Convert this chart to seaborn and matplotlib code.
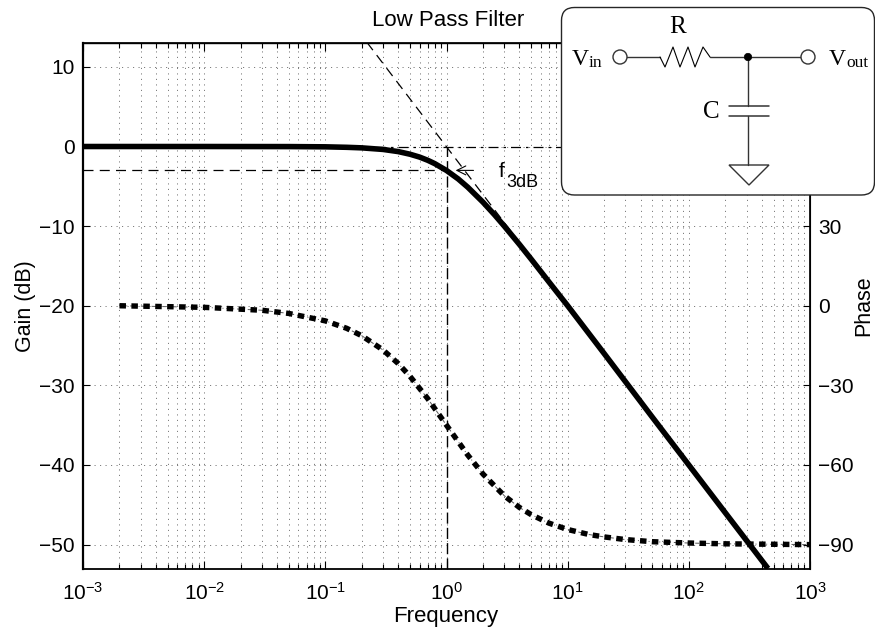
import matplotlib
matplotlib.use("Agg")
import matplotlib.pyplot as plt
from matplotlib.patches import FancyBboxPatch, Circle, Polygon
import seaborn as sns

# values
gain_freq = [0.001, 0.01, 0.05, 0.1, 0.15, 0.2, 0.3, 0.4, 0.5, 0.6, 0.7, 0.8, 1, 1.25, 1.5,
             2, 2.5, 3, 4, 5, 7, 10, 20, 50, 100, 200, 300, 450]
gain_db = [0, 0, -0.01, -0.04, -0.1, -0.17, -0.37, -0.64, -0.97, -1.33, -1.73, -2.15, -3.01, -4.08, -5.12,
           -6.99, -8.6, -10, -12.3, -14.15, -17, -20, -26, -34, -40, -46, -49.5, -53]
phase_freq = [0.002, 0.01, 0.03, 0.05, 0.1, 0.15, 0.2, 0.3, 0.4, 0.5, 0.7, 1, 1.5, 2, 3, 4, 5, 7,
              10, 15, 20, 30, 50, 100, 200, 1000]
phase_deg = [0, -0.6, -1.7, -2.9, -5.7, -8.5, -11.3, -16.7, -21.8, -26.6, -35, -45, -56.3, -63.4,
             -71.6, -76, -78.7, -81.9, -84.3, -86.2, -87.1, -88.1, -88.9, -89.4, -89.7, -90]
asym_freq = [0.22, 10]
asym_db = [13.1, -20]
zero_freq = [0.001, 1000]
zero_db = [0, 0]
cut_freq = [0.001, 1]
cut_db = [-3, -3]
vert_freq = [1, 1]
vert_db = [-53, 0]
freq_ticks = [0.001, 0.01, 0.1, 1, 10, 100, 1000]
gain_ticks = [-50, -40, -30, -20, -10, 0, 10]
phase_ticks = [-90, -60, -30, 0, 30]

sns.set_theme(style="white")
plt.rcParams["font.family"] = ["Liberation Sans", "DejaVu Sans"]
plt.rcParams["mathtext.fontset"] = "custom"
plt.rcParams["mathtext.rm"] = "Liberation Sans"
plt.rcParams["mathtext.default"] = "regular"
plt.rcParams["axes.edgecolor"] = "black"
plt.rcParams["text.color"] = "black"
plt.rcParams["xtick.color"] = "black"
plt.rcParams["ytick.color"] = "black"
plt.rcParams["axes.labelcolor"] = "black"

W, H = 875, 627
fig = plt.figure(figsize=(8.75, 6.27), dpi=100)
L, R, T, B = 83, 810, 43, 568.5
ax = fig.add_axes([L / W, 1 - B / H, (R - L) / W, (B - T) / H])
ax2 = ax.twinx()

dots = (0, (1.5, 5.7))
sns.lineplot(x=gain_freq, y=gain_db, ax=ax, color="black", linewidth=4.0, estimator=None, sort=False,
             solid_capstyle="butt", zorder=4)
sns.lineplot(x=asym_freq, y=asym_db, ax=ax, color="black", linewidth=0.9, estimator=None, sort=False,
             linestyle=(0, (8, 5)), zorder=3)
sns.lineplot(x=zero_freq, y=zero_db, ax=ax, color="black", linewidth=0.9, estimator=None, sort=False,
             linestyle=(0, (8, 4, 2, 4)), zorder=3)
sns.lineplot(x=cut_freq, y=cut_db, ax=ax, color="black", linewidth=0.9, estimator=None, sort=False,
             linestyle=(0, (8, 5)), zorder=3)
sns.lineplot(x=vert_freq, y=vert_db, ax=ax, color="black", linewidth=1.0, estimator=None, sort=False,
             linestyle=(0, (8, 3)), zorder=3)

sns.lineplot(x=phase_freq, y=phase_deg, ax=ax2, color="0.35", linewidth=0.7, estimator=None, sort=False,
             linestyle=(0, (4, 3, 1, 3)), zorder=3)
sns.lineplot(x=phase_freq, y=phase_deg, ax=ax2, color="black", linewidth=3.9, estimator=None, sort=False,
             linestyle=(0, (1.2, 1.0)), dash_capstyle="butt", zorder=4)

ax.set_xscale("log")
ax.set_xlim(1e-3, 1e3)
ax.set_ylim(-53, 13)
ax2.set_ylim(-99, 99)
ax.set_yticks(gain_ticks)
ax2.set_yticks(phase_ticks)
ax.set_yticklabels([str(v).replace("-", "\u2212") for v in gain_ticks])
ax2.set_yticklabels([str(v).replace("-", "\u2212") for v in phase_ticks])

ax.grid(True, which="major", axis="y", color="0.35", linewidth=0.55, linestyle=dots)
ax.grid(True, which="both", axis="x", color="0.35", linewidth=0.55, linestyle=dots)
ax.set_axisbelow(True)
ax.set_xticks(freq_ticks)
ax.xaxis.set_minor_locator(matplotlib.ticker.LogLocator(base=10, subs=range(2, 10), numticks=10))
ax.xaxis.set_minor_formatter(matplotlib.ticker.NullFormatter())

ax.tick_params(axis="x", which="major", direction="in", length=6, width=0.8, top=True, bottom=True,
               labelsize=15, pad=10)
ax.tick_params(axis="x", which="minor", direction="in", length=3.5, width=0.8, top=True, bottom=True)
ax.tick_params(axis="y", which="major", direction="in", length=5, width=0.8, left=True, right=False,
               labelsize=15, pad=6)
ax2.tick_params(axis="y", which="major", direction="in", length=5, width=0.8, right=True, left=False,
                labelsize=15, pad=6)
ax.spines["left"].set_linewidth(1.6)
ax.spines["bottom"].set_linewidth(1.3)
ax.spines["top"].set_linewidth(1.0)
ax.spines["right"].set_linewidth(0.8)
ax2.spines["left"].set_visible(False)
ax2.spines["bottom"].set_visible(False)

ax.set_xlabel("Frequency", fontsize=16)
ax.set_ylabel("Gain (dB)", fontsize=15.5)
ax2.set_ylabel("Phase", fontsize=15.5)
ax.xaxis.set_label_coords(0.499, -0.1018, transform=ax.transAxes)
ax.xaxis.label.set_va("baseline")
ax.yaxis.set_label_coords(-0.065, 0.5)
ax2.yaxis.set_label_coords(1.06, 0.5)

ax.annotate("", xy=(1.19, -3), xytext=(1.67, -3),
            arrowprops=dict(arrowstyle="->", color="black", lw=0.8, mutation_scale=16, shrinkA=0, shrinkB=0),
            zorder=5)

# schematic overlay, in picture pixels
ov = fig.add_axes([0, 0, 1, 1], zorder=10)
ov.set_xlim(0, W)
ov.set_ylim(H, 0)
ov.axis("off")
ov.patch.set_alpha(0)
ov.text(448, 20, "Low Pass Filter", fontsize=16, ha="center", va="center")
ov.text(499, 177, "f", fontsize=15, ha="left", va="baseline")
ov.text(506, 187, "3dB", fontsize=13, ha="left", va="baseline")
ov.add_patch(FancyBboxPatch((561.5, 7.5), 313, 187.5, boxstyle="round,pad=0,rounding_size=13",
                            fc="white", ec="0.15", lw=1.0, clip_on=False, mutation_aspect=1))
ink = "0.2"
ov.plot([627, 660], [57, 57], color=ink, lw=1)
ov.plot([660, 665, 673, 680, 688, 695, 703, 710], [57, 67, 47, 67, 47, 67, 47, 57], color="black", lw=0.8)
ov.plot([710, 801], [57, 57], color=ink, lw=1)
ov.plot([748, 748], [57, 106], color=ink, lw=1)
ov.plot([748, 748], [116, 165], color=ink, lw=1)
ov.plot([729, 769], [106, 106], color=ink, lw=1.1)
ov.plot([729, 769], [116, 116], color=ink, lw=1.1)
ov.add_patch(Polygon([(729, 165), (769, 165), (749, 185)], closed=True, fc="white", ec=ink, lw=1))
ov.add_patch(Circle((620, 57), 7, fc="white", ec=ink, lw=1, zorder=5))
ov.add_patch(Circle((808, 57), 7, fc="white", ec=ink, lw=1, zorder=5))
ov.add_patch(Circle((748, 57), 3.7, fc="black", ec="black", lw=0.5, zorder=5))
serif = ["Liberation Serif", "DejaVu Serif"]
ov.text(678, 27, "R", fontsize=18, family=serif, ha="center", va="center")
ov.text(711, 112, "C", fontsize=18, family=serif, ha="center", va="center")
ov.text(572, 65, "V", fontsize=17, family=serif, ha="left", va="baseline")
ov.text(589, 67, "in", fontsize=12.5, family=serif, ha="left", va="baseline")
ov.text(829, 65, "V", fontsize=17, family=serif, ha="left", va="baseline")
ov.text(846, 67, "out", fontsize=12.5, family=serif, ha="left", va="baseline")

fig.savefig("out.png", dpi=100)
